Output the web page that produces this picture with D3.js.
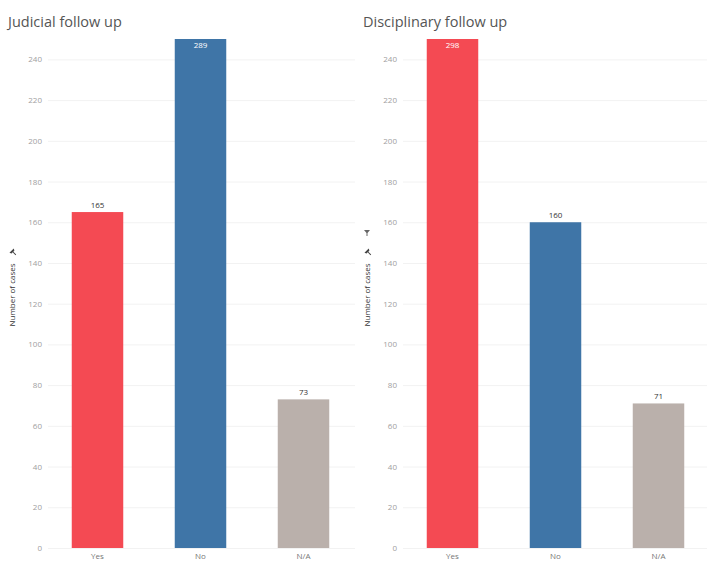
<!DOCTYPE html>
<html>
<head>
<meta charset="utf-8">
<script src="https://cdn.jsdelivr.net/npm/d3@7"></script>
<style>
  body { margin: 0; background: #fff; }
  svg { display: block; font-family: "Open Sans", "Noto Sans", sans-serif; }
</style>
</head>
<body>
<svg width="707" height="563"></svg>
<script>
// data
var categories = ["Yes", "No", "N/A"];
var judicialValues = [165, 289, 73];
var disciplinaryValues = [298, 160, 71];
var panelTitles = ["Judicial follow up", "Disciplinary follow up"];
var yTicks = [0, 20, 40, 60, 80, 100, 120, 140, 160, 180, 200, 220, 240];
var barColors = ["#f44a53", "#3f75a7", "#bab0ab"];

var svg = d3.select("svg");

var y = d3.scaleLinear()
    .domain([0, 250])
    .range([548, 39]);

function drawPanel(left, right, title, values, withFilter) {
    var g = svg.append("g");

    var x = d3.scaleBand()
        .domain(categories)
        .range([left, right])
        .paddingInner(0.5)
        .paddingOuter(0.25);

    // title
    g.append("text")
        .attr("x", left - 38)
        .attr("y", 27)
        .attr("fill", "#555")
        .attr("font-size", 14.5)
        .text(title);

    // gridlines
    g.selectAll("line.grid")
        .data(yTicks)
        .enter().append("line")
        .attr("class", "grid")
        .attr("x1", left + 2)
        .attr("x2", right)
        .attr("y1", function(d) { return y(d) + 0.5; })
        .attr("y2", function(d) { return y(d) + 0.5; })
        .attr("stroke", "#f2f2f2");

    // y axis
    var ax = g.append("g")
        .attr("transform", "translate(" + (left - 4) + ",0)")
        .call(d3.axisLeft(y).tickValues(yTicks).tickSize(0).tickPadding(0));
    ax.select(".domain").remove();
    ax.selectAll("text").attr("fill", "#a0a0a0").attr("font-size", 8)
        .attr("font-family", "Open Sans, sans-serif");

    // axis title
    var tx = left - 31, ty = 295;
    g.append("text")
        .attr("transform", "translate(" + tx + "," + ty + ") rotate(-90)")
        .attr("text-anchor", "middle")
        .attr("fill", "#333")
        .attr("font-size", 8)
        .text("Number of cases");
    // pin icon
    g.append("path")
        .attr("transform", "translate(" + (tx - 2) + ",252) rotate(-45)")
        .attr("d", "M-3,-2 L3,-2 L2,0 L0.5,0 L0.5,4 L-0.5,4 L-0.5,0 L-2,0 Z")
        .attr("fill", "#444");
    if (withFilter) {
        g.append("path")
            .attr("transform", "translate(" + (tx - 3) + ",233)")
            .attr("d", "M-3,-3 L3,-3 L0.5,0 L0.5,3 L-0.5,3 L-0.5,0 Z")
            .attr("fill", "#666");
    }

    var clip = "clip" + Math.round(left);
    g.append("clipPath").attr("id", clip)
        .append("rect")
        .attr("x", left).attr("y", y(250))
        .attr("width", right - left).attr("height", y(0) - y(250));

    // bars
    g.append("g").attr("clip-path", "url(#" + clip + ")")
        .selectAll("rect")
        .data(values)
        .enter().append("rect")
        .attr("x", function(d, i) { return x(categories[i]); })
        .attr("width", x.bandwidth())
        .attr("y", function(d) { return y(d); })
        .attr("height", function(d) { return y(0) - y(d); })
        .attr("fill", function(d, i) { return barColors[i]; });

    // value labels
    g.selectAll("text.val")
        .data(values)
        .enter().append("text")
        .attr("class", "val")
        .attr("x", function(d, i) { return x(categories[i]) + x.bandwidth() / 2; })
        .attr("y", function(d) { return d > 250 ? y(250) + 9 : y(d) - 4; })
        .attr("text-anchor", "middle")
        .attr("font-size", 8)
        .attr("fill", function(d) { return d > 250 ? "#fff" : "#333"; })
        .text(function(d) { return d; });

    // category labels
    g.selectAll("text.cat")
        .data(categories)
        .enter().append("text")
        .attr("class", "cat")
        .attr("x", function(d) { return x(d) + x.bandwidth() / 2; })
        .attr("y", 559)
        .attr("text-anchor", "middle")
        .attr("font-size", 8)
        .attr("fill", "#777")
        .text(function(d) { return d; });
}

drawPanel(46, 355, panelTitles[0], judicialValues, false);
drawPanel(401, 710, panelTitles[1], disciplinaryValues, true);
</script>
</body>
</html>
